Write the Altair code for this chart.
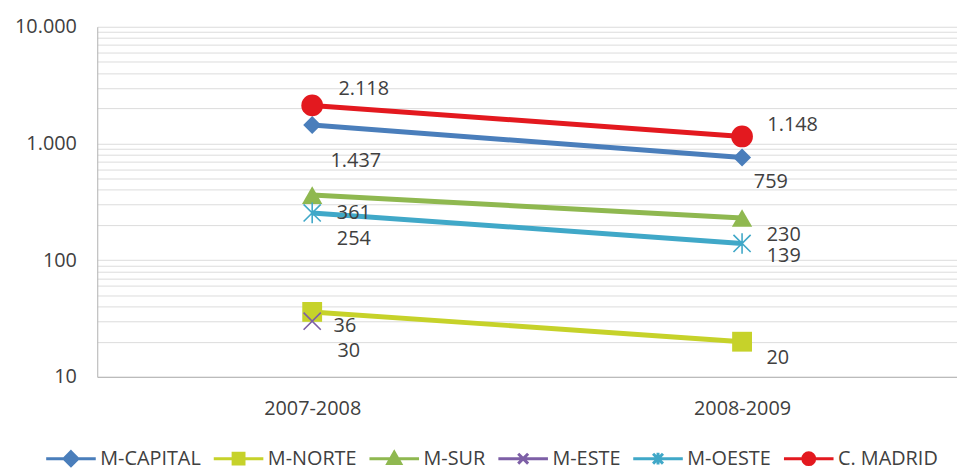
import altair as alt
import pandas as pd

# ---- data -------------------------------------------------------------
periods = ["2007-2008", "2008-2009"]
series = ["M-CAPITAL", "M-NORTE", "M-SUR", "M-ESTE", "M-OESTE", "C. MADRID"]
m_capital = [1437, 759]
m_norte = [36, 20]
m_sur = [361, 230]
m_este = [30, None]
m_oeste = [254, 139]
c_madrid = [2118, 1148]
values_by_series = [m_capital, m_norte, m_sur, m_este, m_oeste, c_madrid]

y_ticks = [10, 20, 30, 40, 50, 60, 70, 80, 90,
           100, 200, 300, 400, 500, 600, 700, 800, 900,
           1000, 2000, 3000, 4000, 5000, 6000, 7000, 8000, 9000,
           10000]

# ---- style ------------------------------------------------------------
colors = ["#4a7ebb", "#c6d22a", "#8fb850", "#7d5fa6", "#40a8c8", "#e3191f"]
X_PATH = "M-1,-1L1,1M1,-1L-1,1"
AST_PATH = "M-1,-1L1,1M1,-1L-1,1M0,-1.2V1.2"
marker_shapes = ["diamond", "square", "triangle-up", X_PATH, AST_PATH, "circle"]
marker_sizes = [330, 400, 420, 300, 300, 480]
marker_filled = [True, True, True, False, False, True]
legend_shapes = [
    "M-2.5,0H2.5M0,-0.7L0.7,0L0,0.7L-0.7,0Z",
    "M-2.5,0H2.5M-0.55,-0.55H0.55V0.55H-0.55Z",
    "M-2.5,0H2.5M0,-0.65L0.65,0.5H-0.65Z",
    "M-2.5,0H2.5M-0.5,-0.5L0.5,0.5M0.5,-0.5L-0.5,0.5",
    "M-2.5,0H2.5M-0.5,-0.5L0.5,0.5M0.5,-0.5L-0.5,0.5M0,-0.6V0.6",
    "M-2.5,0H2.5M0.6,0A0.6,0.6,0,1,1,-0.6,0A0.6,0.6,0,1,1,0.6,0",
]
# label offsets (dx, dy) per series, per period
label_offsets = {
    "M-CAPITAL": [(44, 36), (29, 25)],
    "M-NORTE": [(33, 14), (36, 16)],
    "M-SUR": [(42, 18), (42, 17)],
    "M-ESTE": [(37, 30), (0, 0)],
    "M-OESTE": [(42, 26), (42, 13)],
    "C. MADRID": [(52, -17), (51, -12)],
}

FONT = "Open Sans"
TXT = "#404040"

rows = []
for s, vals in zip(series, values_by_series):
    for p, v in zip(periods, vals):
        if v is not None:
            rows.append({"serie": s, "periodo": p, "valor": v,
                         "etiqueta": f"{v:,}".replace(",", ".")})
df = pd.DataFrame(rows)

x_enc = alt.X(
    "periodo:N",
    scale=alt.Scale(type="point", domain=periods, padding=0.5),
    axis=alt.Axis(title=None, labelAngle=0, ticks=False, labelPadding=22,
                  domainColor="#b0b0b0", grid=False),
)
y_enc = alt.Y(
    "valor:Q",
    scale=alt.Scale(type="log", domain=[10, 10000], nice=False),
    axis=alt.Axis(
        title=None, values=y_ticks, ticks=False, labelPadding=21,
        grid=True, gridColor="#dcdcdc", gridWidth=1,
        domainColor="#b0b0b0",
        labelExpr="indexof([10,100,1000,10000], datum.value) >= 0 ? "
                  "replace(format(datum.value, ','), ',', '.') : ''",
    ),
)

layers = []
for i, s in enumerate(series):
    sel = alt.datum.serie == s
    layers.append(
        alt.Chart().mark_line(strokeWidth=5, color=colors[i])
        .encode(x=x_enc, y=y_enc)
        .transform_filter(sel)
    )
    layers.append(
        alt.Chart().mark_point(shape=marker_shapes[i], size=marker_sizes[i],
                               filled=marker_filled[i], opacity=1,
                               color=colors[i],
                               strokeWidth=1.6 if not marker_filled[i] else 1)
        .encode(x=x_enc, y=y_enc)
        .transform_filter(sel)
    )

for s in series:
    for j, p in enumerate(periods):
        dx, dy = label_offsets[s][j]
        layers.append(
            alt.Chart().mark_text(font=FONT, fontSize=20, color=TXT,
                                  align="center", baseline="middle",
                                  dx=dx, dy=dy)
            .encode(x=x_enc, y=y_enc, text="etiqueta:N")
            .transform_filter((alt.datum.serie == s) & (alt.datum.periodo == p))
        )

legend = alt.Legend(
    title=None, orient="none", legendX=-38, legendY=424,
    direction="horizontal", gridAlign="none",
    symbolSize=400, symbolStrokeWidth=3,
    symbolOpacity=1, labelOffset=18, columnPadding=6,
    labelFont=FONT, labelFontSize=20, labelColor=TXT,
)
legend_layer = (
    alt.Chart().mark_point(filled=True, opacity=0, size=400)
    .encode(
        x=x_enc, y=y_enc,
        color=alt.Color("serie:N", scale=alt.Scale(domain=series, range=colors),
                        legend=legend),
        shape=alt.Shape("serie:N", scale=alt.Scale(domain=series, range=legend_shapes),
                        legend=legend),
        stroke=alt.Stroke("serie:N", scale=alt.Scale(domain=series, range=colors),
                          legend=legend),
    )
)
layers.append(legend_layer)

chart = (
    alt.layer(*layers, data=df)
    .properties(width=867, height=353,
                autosize=alt.AutoSizeParams(type="none"),
                padding={"left": 90, "top": 17, "right": 0, "bottom": 90})
    .configure_view(stroke=None)
    .configure_axis(labelFont=FONT, labelFontSize=20, labelColor=TXT)
)

chart.save("out.html", embed_options={"renderer": "svg", "actions": False})
